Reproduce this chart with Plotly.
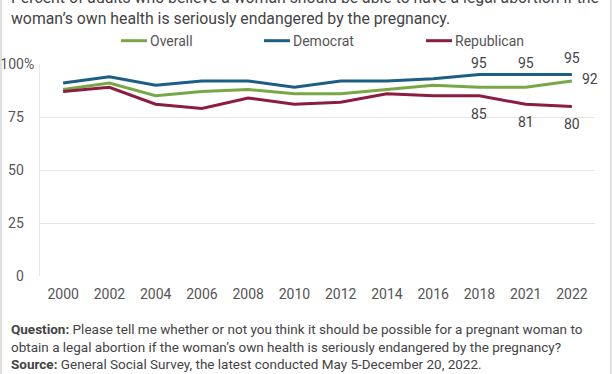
import plotly.graph_objects as go

years = ["2000", "2002", "2004", "2006", "2008", "2010", "2012", "2014", "2016", "2018", "2021", "2022"]
overall = [88, 91, 85, 87, 88, 86, 86, 88, 90, 89, 89, 92]
democrat = [91, 94, 90, 92, 92, 89, 92, 92, 93, 95, 95, 95]
republican = [87, 89, 81, 79, 84, 81, 82, 86, 85, 85, 81, 80]
y_ticks = [0, 25, 50, 75, 100]
y_ticktext = ["0", "25", "50", "75", "100%"]

series = [
    ("Overall", overall, "#78A846"),
    ("Democrat", democrat, "#1C5E84"),
    ("Republican", republican, "#8C1D40"),
]

W, H = 612, 374
ML, MR, MT, MB = 40, 17, 64, 98
PW, PH = W - ML - MR, H - MT - MB

def px(x):
    return (x - ML) / PW

def py(y):
    return (H - MB - y) / PH

FONT = "Roboto"
TXT = "#444444"
TICK = "#555555"

fig = go.Figure()
for name, vals, col in series:
    fig.add_trace(go.Scatter(x=years, y=vals, mode="lines", name=name,
                             line=dict(color=col, width=3), showlegend=False))

annotations = []
shapes = []

# data labels (x given as category index)
n = len(years)
for i in range(n - 3, n):
    ys = 17 if i == n - 1 else 12
    annotations.append(dict(x=i, y=democrat[i], xref="x", yref="y", text=str(democrat[i]),
                            showarrow=False, yshift=ys, font=dict(family=FONT, size=14, color=TXT)))
    annotations.append(dict(x=i, y=republican[i], xref="x", yref="y", text=str(republican[i]),
                            showarrow=False, yshift=-18, font=dict(family=FONT, size=14, color=TXT)))
annotations.append(dict(x=n - 1, y=overall[-1], xref="x", yref="y", text=str(overall[-1]),
                        showarrow=False, xanchor="left", xshift=8, yshift=2,
                        font=dict(family=FONT, size=14, color=TXT)))

# custom legend
leg_x = [121, 264, 426]
for (name, vals, col), lx in zip(series, leg_x):
    shapes.append(dict(type="line", xref="paper", yref="paper", x0=px(lx), x1=px(lx + 26),
                       y0=py(40.7), y1=py(40.7), line=dict(color=col, width=3)))
    annotations.append(dict(x=px(lx + 27), y=py(40.7), xref="paper", yref="paper", text=name,
                            showarrow=False, xanchor="left", yanchor="middle",
                            font=dict(family=FONT, size=14, color=TICK)))

# title
annotations.append(dict(x=px(9), y=py(8), xref="paper", yref="paper", xanchor="left", yanchor="middle",
                        align="left", showarrow=False,
                        text="Percent of adults who believe a woman should be able to have a legal abortion if the<br>"
                             "woman\u2019s own health is seriously endangered by the pregnancy.",
                        font=dict(family=FONT, size=15.8, color=TXT)))

# footer
annotations.append(dict(x=px(9), y=py(346), xref="paper", yref="paper", xanchor="left", yanchor="middle",
                        align="left", showarrow=False,
                        text="<b>Question:</b> Please tell me whether or not you think it should be possible for a pregnant woman to<br>"
                             "obtain a legal abortion if the woman\u2019s own health is seriously endangered by the pregnancy?<br>"
                             "<b>Source:</b> General Social Survey, the latest conducted May 5-December 20, 2022.",
                        font=dict(family=FONT, size=13.5, color=TXT)))

# outer border lines
for bx in (1, 611):
    shapes.append(dict(type="line", xref="paper", yref="paper", x0=px(bx), x1=px(bx),
                       y0=py(-5), y1=py(380), line=dict(color="#d6d6d6", width=1.5)))

ticktext_padded = [t if t.endswith("%") else t + "\u00a0\u00a0\u00a0" for t in y_ticktext]

fig.update_layout(
    width=W, height=H,
    margin=dict(l=ML, r=MR, t=MT, b=MB, pad=0, autoexpand=False),
    paper_bgcolor="white", plot_bgcolor="white",
    font=dict(family=FONT, size=14, color=TICK),
    xaxis=dict(type="category", showgrid=False, zeroline=False, showline=False, automargin=False,
               ticks="", ticklabelstandoff=8, tickfont=dict(size=14, color=TICK),
               range=[-0.5, n - 0.5], fixedrange=True),
    yaxis=dict(range=[0, 100], tickvals=y_ticks, ticktext=ticktext_padded, automargin=False,
               showgrid=True, gridcolor="#e6e6e6", gridwidth=1, zeroline=False,
               showline=True, linecolor="#e6e6e6", linewidth=1,
               ticks="", ticklabelstandoff=2, tickfont=dict(size=14, color=TICK), fixedrange=True),
    annotations=annotations,
    shapes=shapes,
    showlegend=False,
)

fig.write_html("out.html", config={"displayModeBar": False},
               post_script="document.body.style.margin='0';document.body.style.overflow='hidden';")
